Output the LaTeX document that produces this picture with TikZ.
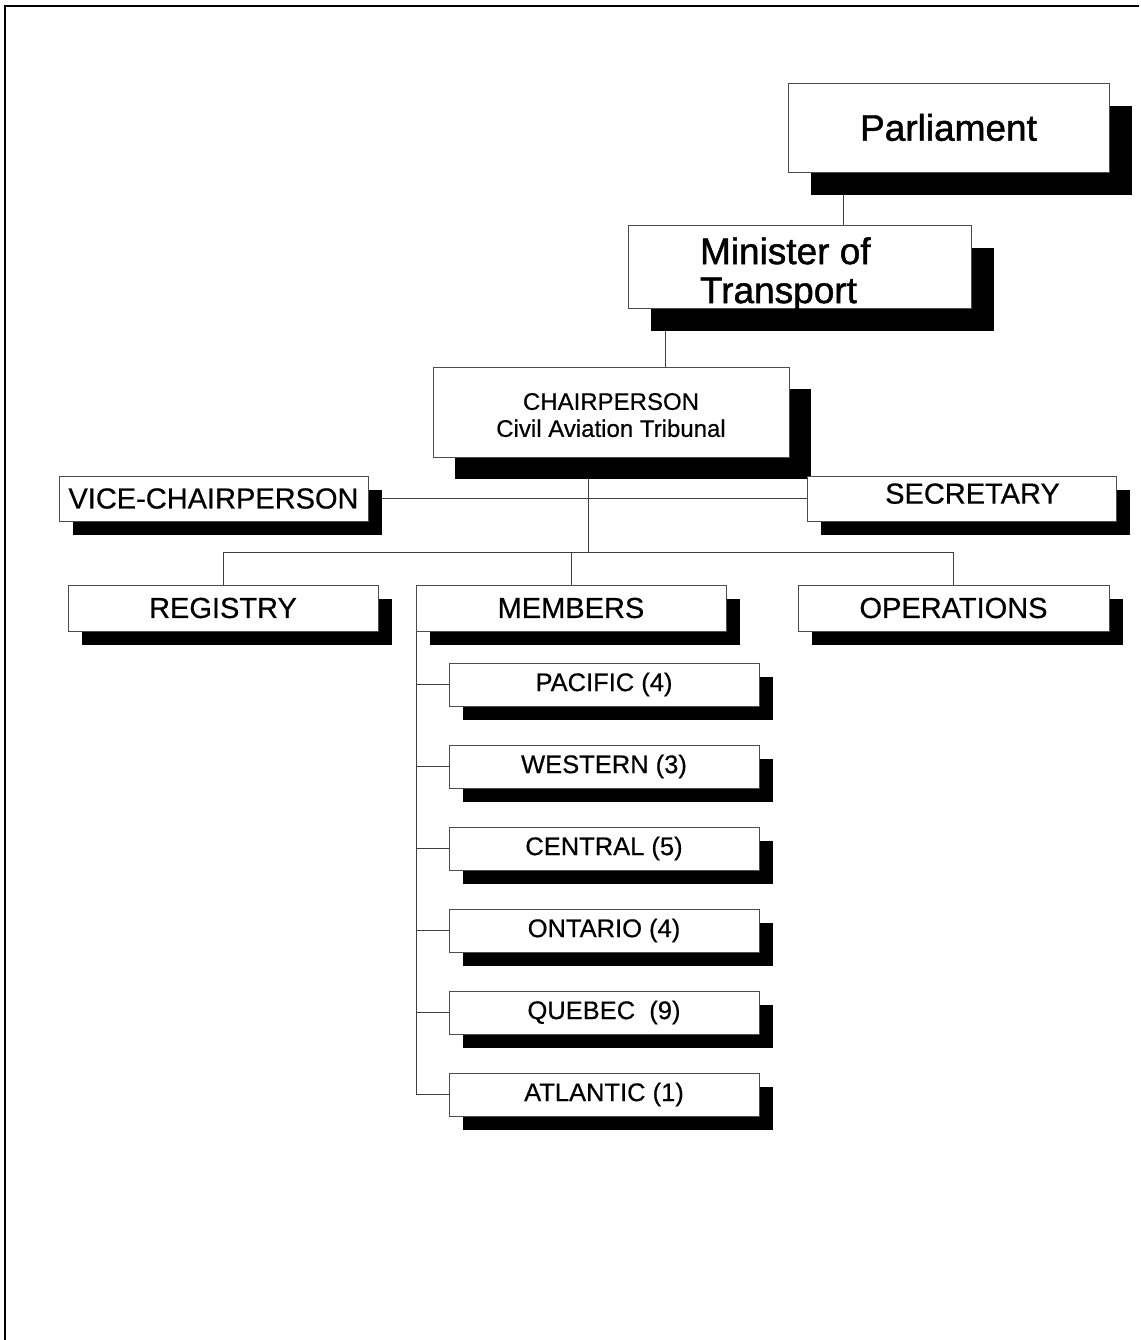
\documentclass[tikz,border=0pt]{standalone}
\usepackage{fontspec}
\setmainfont{Liberation Sans}
\newfontfamily\heavyfont[FakeBold=1.2]{Liberation Sans}
\newfontfamily\midfont[FakeBold=0.5]{Liberation Sans}
\usetikzlibrary{shadows,backgrounds}
\begin{document}
\begin{tikzpicture}[x=1pt,y=-1pt,
  box/.style={draw=black!70, line width=0.9pt, fill=white, rectangle, inner sep=0pt, outer sep=0pt, align=center},
  bigshadow/.style={drop shadow={shadow xshift=23pt, shadow yshift=-23pt, fill=black, opacity=1}},
  smallshadow/.style={drop shadow={shadow xshift=14pt, shadow yshift=-14pt, fill=black, opacity=1}},
  mid/.style={box, smallshadow, minimum width=310pt, minimum height=46pt, font=\midfont\fontsize{29}{33}\selectfont},
  sub/.style={box, smallshadow, minimum width=310pt, minimum height=43pt, font=\midfont\fontsize{25.5}{29}\selectfont},
  conn/.style={draw=black!75, line width=0.9pt},
  label/.style={inner sep=0pt, outer sep=0pt}
]
\useasboundingbox (0,0) rectangle (1140,1340);
% page frame
\draw[line width=1.6pt] (5,1340) -- (5,6) -- (1139,6);

% top boxes
\node[box, bigshadow, minimum width=321pt, minimum height=89pt, font=\heavyfont\fontsize{37}{40}\selectfont] (parl) at (948.5,127.5) {Parliament};
\node[box, bigshadow, minimum width=343pt, minimum height=83pt] (mini) at (799.5,266.5) {};
\node[label, anchor=west, align=left, font=\heavyfont\fontsize{37}{39}\selectfont] (minitext) at (700,274) {Minister of\\Transport};
\node[box, drop shadow={shadow xshift=22pt, shadow yshift=-22pt, fill=black, opacity=1}, minimum width=356pt, minimum height=90pt, font=\midfont\fontsize{24}{27}\selectfont] (chair) at (611,412) {\rule{0pt}{23pt}CHAIRPERSON\\Civil Aviation Tribunal};

% second level
\node[mid, minimum width=309pt, minimum height=45pt] (vice) at (213.5,498.5) {VICE-CHAIRPERSON};
\node[mid, minimum width=309pt, minimum height=45pt] (sec) at (961.5,498.5) {\hspace*{22pt}\rule[-10pt]{0pt}{10pt}SECRETARY};

\node[mid] (reg) at (223,608) {REGISTRY};
\node[mid] (mem) at (571,608) {MEMBERS};
\node[mid, minimum width=311pt] (ops) at (953.5,608) {OPERATIONS};

% regions
\node[sub] (pac) at (604,684.5) {PACIFIC (4)};
\node[sub] (west) at (604,766.5) {WESTERN (3)};
\node[sub] (cent) at (604,848.5) {CENTRAL (5)};
\node[sub] (ont) at (604,930.5) {ONTARIO (4)};
\node[sub] (queb) at (604,1012.5) {QUEBEC~~(9)};
\node[sub] (atl) at (604,1094.5) {ATLANTIC (1)};

% junction coordinates
\coordinate (pmx) at (843,0);
\coordinate (mcx) at (665,0);
\coordinate (hub) at (588,552);

% connectors (behind boxes and shadows)
\begin{scope}[on background layer]
\draw[conn] (parl.south -| pmx) -- (mini.north -| pmx);
\draw[conn] (mini.south -| mcx) -- (chair.north -| mcx);
\draw[conn] (chair.south -| hub) -- (hub);
\draw[conn] (vice.east) -- (sec.west);
\draw[conn] (reg.north |- hub) -- (ops.north |- hub);
\draw[conn] (reg.north |- hub) -- (reg.north);
\draw[conn] (mem.north |- hub) -- (mem.north);
\draw[conn] (ops.north |- hub) -- (ops.north);
\draw[conn] (mem.south west) -- (mem.south west |- atl.west);
\foreach \r in {pac,west,cent,ont,queb,atl}
  \draw[conn] (mem.south west |- \r.west) -- (\r.west);
\end{scope}
\end{tikzpicture}
\end{document}
